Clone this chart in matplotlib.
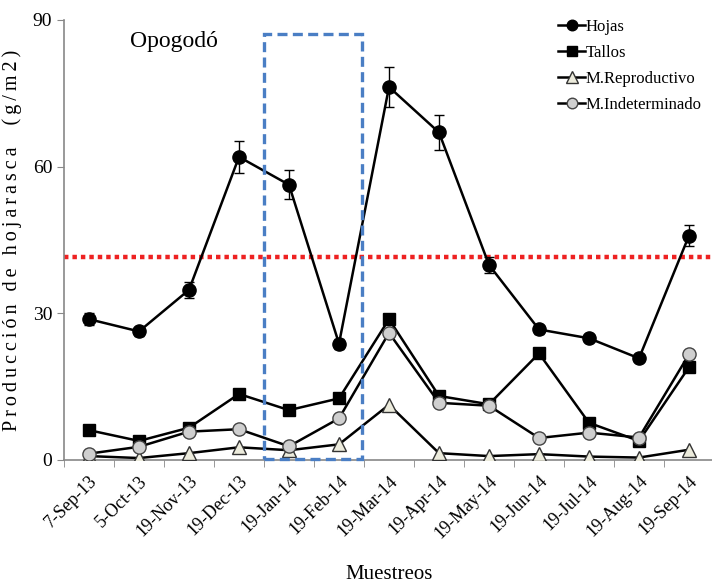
import matplotlib
matplotlib.use("Agg")
import matplotlib.pyplot as plt
from matplotlib.patches import Rectangle

# Sampling dates
fechas = ["7-Sep-13", "5-Oct-13", "19-Nov-13", "19-Dec-13", "19-Jan-14",
          "19-Feb-14", "19-Mar-14", "19-Apr-14", "19-May-14", "19-Jun-14",
          "19-Jul-14", "19-Aug-14", "19-Sep-14"]

# Litterfall by fraction (g/m2)
hojas = [28.8, 26.3, 34.8, 62.0, 56.3, 23.8, 76.3, 67.0, 39.9, 26.7, 24.9, 20.8, 45.9]
hojas_err = [1.2, 1.0, 1.6, 3.2, 3.0, 1.0, 4.0, 3.6, 1.6, 1.0, 0.8, 0.8, 2.2]
tallos = [6.1, 3.9, 6.6, 13.5, 10.2, 12.6, 28.8, 13.1, 11.4, 21.8, 7.6, 3.9, 19.0]
reproductivo = [0.8, 0.4, 1.4, 2.6, 2.0, 3.2, 11.3, 1.4, 0.8, 1.2, 0.7, 0.5, 2.1]
indeterminado = [1.3, 2.7, 5.8, 6.3, 2.8, 8.5, 26.0, 11.7, 11.1, 4.5, 5.6, 4.6, 21.6]

# Reference level and highlighted period
media_hojas = 41.6
periodo = (3.5, 5.46)
periodo_tope = 87.2

serif = "Liberation Serif"
plt.rcParams["font.family"] = serif

fig = plt.figure(figsize=(7.12, 5.88), dpi=100)
ax = fig.add_axes([64 / 712, 128 / 588, 650 / 712, 440 / 588])

x = list(range(len(fechas)))

ax.axhline(media_hojas, color="#ee2222", lw=3.2, ls=(0, (1, 0.9)), zorder=1)

ax.errorbar(x, hojas, yerr=hojas_err, color="black", lw=1.8, fmt="none",
            capsize=3.5, elinewidth=1.0, capthick=1.0, zorder=5)
l_hojas, = ax.plot(x, hojas, color="black", lw=1.8, marker="o", ms=9.5,
                   mfc="black", mec="black", zorder=5, label="Hojas")
l_tallos, = ax.plot(x, tallos, color="black", lw=1.8, marker="s", ms=9,
                    mfc="black", mec="black", zorder=3, label="Tallos")
l_rep, = ax.plot(x, reproductivo, color="black", lw=1.8, marker="^", ms=10,
                 mfc="#ecebdc", mec="#333333", mew=1.0, zorder=3,
                 label="M.Reproductivo")
l_ind, = ax.plot(x, indeterminado, color="black", lw=1.8, marker="o", ms=9.5,
                 mfc="#cfcfcf", mec="#444444", mew=1.0, zorder=4,
                 label="M.Indeterminado")

ax.add_patch(Rectangle((periodo[0], 0.2), periodo[1] - periodo[0],
                       periodo_tope - 0.2, fill=False, ec="#4a7ec4",
                       lw=2.4, ls=(0, (3, 1.6)), zorder=6, clip_on=False))

ax.set_xlim(-0.5, len(fechas) - 0.5)
ax.set_ylim(0, 90)
ax.set_yticks([0, 30, 60, 90])
ax.set_xticks(x)
ax.set_xticklabels(fechas, rotation=45, ha="right", rotation_mode="anchor",
                   fontsize=13)
ax.set_xticks([i + 0.5 for i in range(-1, len(fechas))], minor=True)
ax.tick_params(axis="x", which="major", length=0, pad=9)
ax.tick_params(axis="x", which="minor", length=5, color="#888888", direction="out")
ax.tick_params(axis="y", length=5, color="#888888", labelsize=14)

for s in ["top", "right"]:
    ax.spines[s].set_visible(False)
for s in ["left", "bottom"]:
    ax.spines[s].set_color("#888888")
    ax.spines[s].set_linewidth(1.2)

ylab = "\u2009".join("Producción de hojarasca  (g/m2)")
ax.set_ylabel(ylab, fontsize=14.5, labelpad=8)
ax.set_xlabel("Muestreos", fontsize=15, labelpad=17)

ax.text(1.7, 85.5, "Opogodó", fontsize=17, ha="center", va="center")

leg = ax.legend(handles=[l_hojas, l_tallos, l_rep, l_ind],
                loc="upper left", bbox_to_anchor=(0.745, 1.025), frameon=False,
                fontsize=12, handlelength=1.6, handletextpad=0.05,
                labelspacing=0.6, borderaxespad=0.2, markerscale=0.8)

fig.savefig("out.png", dpi=100)
